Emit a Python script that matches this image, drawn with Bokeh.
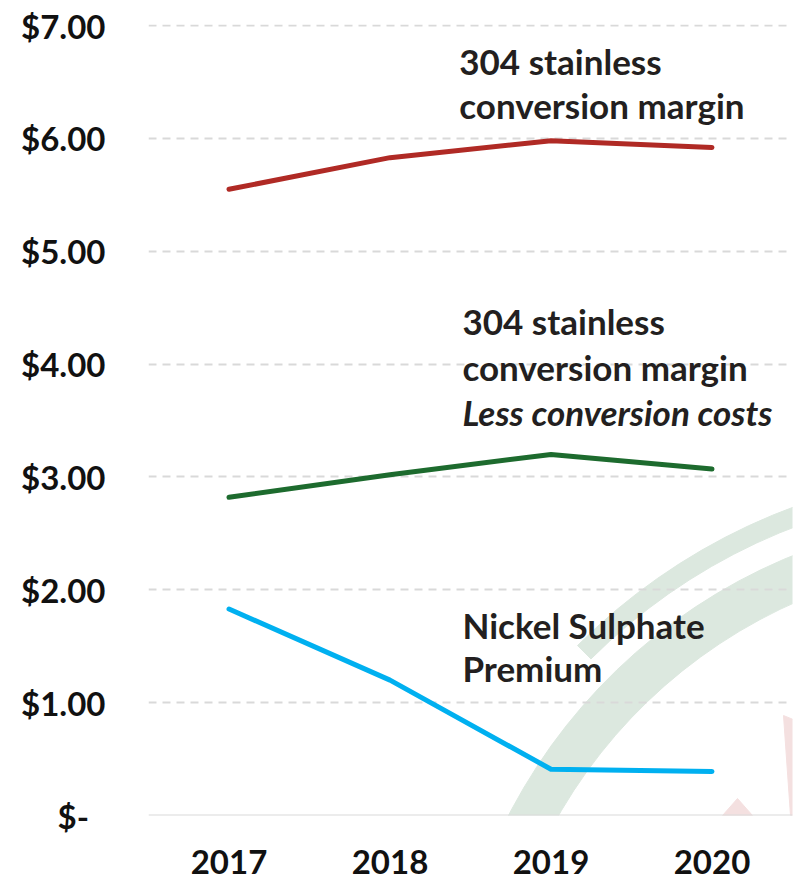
from bokeh.plotting import figure
from bokeh.models import FactorRange, Range1d, Label, FixedTicker, Span
from bokeh.embed import file_html
from bokeh.resources import INLINE

# ---- data ----
years = ["2017", "2018", "2019", "2020"]
stainless_margin = [5.55, 5.83, 5.98, 5.92]
margin_less_costs = [2.82, 3.02, 3.20, 3.07]
nickel_premium = [1.83, 1.20, 0.41, 0.39]

y_ticks = [0, 1, 2, 3, 4, 5, 6, 7]
y_tick_labels = ["$-\u2002", "$1.00", "$2.00", "$3.00", "$4.00", "$5.00", "$6.00", "$7.00"]

series_colors = ["#b02a25", "#1d6b2e", "#00b0f0"]

FONT = "Lato"
TEXT_DARK = "#231f20"
AXIS_TEXT = "#111111"

p = figure(
    x_range=FactorRange(*years, range_padding=0, factor_padding=0),
    y_range=Range1d(0, 7.01),
    width=801, height=879,
    output_backend="svg", toolbar_location=None,
    min_border_left=148, min_border_right=9,
    min_border_top=24, min_border_bottom=64,
)
p.outline_line_color = None
p.background_fill_color = "white"
p.border_fill_color = "white"

# ---- faint background watermark (decoration, placed in page pixels) ----
def sx(px):
    return (px - 148) / 161.0

def sy(py):
    return (815 - py) / (791 / 7.01)

deco_green = "#dce8df"
deco_red = "#f4e0e0"
p.annular_wedge(x=sx(1002), y=sy(1070), inner_radius=512, outer_radius=556,
                inner_radius_units="screen", outer_radius_units="screen",
                start_angle=95, end_angle=178, start_angle_units="deg", end_angle_units="deg",
                color=deco_green, level="image")
p.annular_wedge(x=sx(1002), y=sy(1070), inner_radius=582, outer_radius=601,
                inner_radius_units="screen", outer_radius_units="screen",
                start_angle=95, end_angle=135, start_angle_units="deg", end_angle_units="deg",
                color=deco_green, level="image")
p.patch(x=[sx(v) for v in (783, 800, 800, 790)], y=[sy(v) for v in (715, 722, 815, 815)],
        color=deco_red, level="image")
p.patch(x=[sx(v) for v in (737, 722, 752)], y=[sy(v) for v in (798, 815, 815)],
        color=deco_red, level="image")

# ---- grid ----
p.xgrid.visible = False
p.ygrid.grid_line_color = "#d9d9d9"
p.ygrid.grid_line_width = 2
p.ygrid.grid_line_dash = "8 6"
p.add_layout(Span(location=0, dimension="width", line_color="#d9d9d9", line_width=2))

# ---- axes ----
p.yaxis.ticker = FixedTicker(ticks=y_ticks)
p.yaxis.major_label_overrides = {t: l for t, l in zip(y_ticks, y_tick_labels)}
for ax in (p.xaxis, p.yaxis):
    ax.axis_line_color = None
    ax.major_tick_line_color = None
    ax.minor_tick_line_color = None
    ax.major_label_text_font = FONT
    ax.major_label_text_font_style = "bold"
    ax.major_label_text_font_size = "33px"
    ax.major_label_text_color = AXIS_TEXT
p.yaxis.major_label_standoff = 37
p.xaxis.major_label_standoff = 28

# ---- lines ----
for vals, col in zip([stainless_margin, margin_less_costs, nickel_premium], series_colors):
    p.line(years, vals, line_width=5, line_color=col, line_cap="round", line_join="round")

# ---- annotations ----
def add_label(x, y, text, style="bold"):
    p.add_layout(Label(x=x, y=y, text=text, text_font=FONT, text_font_style=style,
                       text_font_size="35px", text_color=TEXT_DARK,
                       text_baseline="alphabetic", text_align="left"))

add_label(1.93, 6.684, "304 stainless")
add_label(1.93, 6.295, "conversion margin")
add_label(1.95, 4.382, "304 stainless")
add_label(1.95, 3.972, "conversion margin")
add_label(1.95, 3.573, "Less conversion costs", "bold italic")
add_label(1.95, 1.685, "Nickel Sulphate")
add_label(1.95, 1.304, "Premium")

open("out.html", "w").write(file_html(p, INLINE))
